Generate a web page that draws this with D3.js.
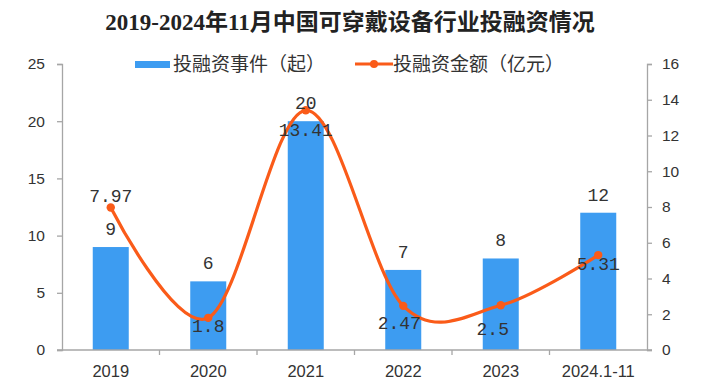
<!DOCTYPE html>
<html>
<head>
<meta charset="utf-8">
<script src="https://cdn.jsdelivr.net/npm/d3@7"></script>
<style>
  html, body { margin: 0; padding: 0; background: #fff; }
  svg { display: block; }
</style>
</head>
<body>
<svg id="chart" width="701" height="382"></svg>
<script>
// ---- data ----
const titleText = "2019-2024年11月中国可穿戴设备行业投融资情况";
const categories = ["2019", "2020", "2021", "2022", "2023", "2024.1-11"];
const dealCounts = [9, 6, 20, 7, 8, 12];            // 投融资事件（起）
const dealAmounts = [7.97, 1.8, 13.41, 2.47, 2.5, 5.31]; // 投融资金额（亿元）
const leftTicks = [0, 5, 10, 15, 20, 25];
const rightTicks = [0, 2, 4, 6, 8, 10, 12, 14, 16];
const seriesNames = ["投融资事件（起）", "投融资金额（亿元）"];

// ---- layout / style ----
const W = 701, H = 382;
const plot = { left: 62, right: 647, top: 64, bottom: 350 };
const barColor = "#3d9cf1";
const lineColor = "#fa5b19";
const axisColor = "#a6a6a6";
const textColor = "#333";
const cjk = "'Noto Sans CJK SC', sans-serif";

const svg = d3.select("#chart");

const x = d3.scaleBand().domain(categories).range([plot.left, plot.right]).paddingInner(0).paddingOuter(0);
const yL = d3.scaleLinear().domain([0, 25]).range([plot.bottom, plot.top]);
const yR = d3.scaleLinear().domain([0, 16]).range([plot.bottom, plot.top]);
const barW = 36;
const cx = c => x(c) + x.bandwidth() / 2;

// title
svg.append("text")
  .attr("x", 350).attr("y", 30)
  .attr("text-anchor", "middle")
  .attr("font-family", "'Liberation Serif', 'Noto Sans CJK SC', serif")
  .attr("font-weight", "bold")
  .attr("font-size", 23)
  .attr("fill", "#222")
  .text(titleText);

// bars
svg.append("g").selectAll("rect").data(dealCounts).join("rect")
  .attr("x", (d, i) => cx(categories[i]) - barW / 2)
  .attr("y", d => yL(d))
  .attr("width", barW)
  .attr("height", d => yL(0) - yL(d))
  .attr("fill", barColor);

// axes
const axisStyle = g => {
  g.selectAll(".domain").attr("stroke", axisColor).attr("stroke-width", 1.3);
  g.selectAll(".tick line").attr("stroke", axisColor).attr("stroke-width", 1.3);
  g.selectAll("text").attr("fill", textColor);
};

svg.append("g")
  .attr("transform", `translate(${plot.left},0)`)
  .call(d3.axisLeft(yL).tickValues(leftTicks).tickSize(5).tickSizeOuter(5).tickPadding(12))
  .call(axisStyle)
  .call(g => g.selectAll("text").attr("font-family", "'Liberation Sans', sans-serif").attr("font-size", 15.5));

svg.append("g")
  .attr("transform", `translate(${plot.right},0)`)
  .call(d3.axisRight(yR).tickValues(rightTicks).tickSize(5).tickSizeOuter(5).tickPadding(10))
  .call(axisStyle)
  .call(g => g.selectAll("text").attr("font-family", "'Liberation Sans', sans-serif").attr("font-size", 15.5));

// bottom axis: line + separators between categories
const bottom = svg.append("g").attr("transform", `translate(0,${plot.bottom})`);
bottom.append("line")
  .attr("x1", plot.left - 5).attr("x2", plot.right + 5)
  .attr("y1", 0).attr("y2", 0)
  .attr("stroke", axisColor).attr("stroke-width", 1.3);
bottom.selectAll("line.sep").data(categories.slice(1)).join("line")
  .attr("class", "sep")
  .attr("x1", d => x(d)).attr("x2", d => x(d))
  .attr("y1", 0).attr("y2", 5)
  .attr("stroke", axisColor).attr("stroke-width", 1.3);
bottom.selectAll("text").data(categories).join("text")
  .attr("x", d => cx(d)).attr("y", 27)
  .attr("text-anchor", "middle")
  .attr("font-family", "'Liberation Sans', sans-serif")
  .attr("font-size", 16.5)
  .attr("fill", textColor)
  .text(d => d);

// line
const pts = dealAmounts.map((v, i) => [cx(categories[i]), yR(v)]);
svg.append("path")
  .attr("d", d3.line().curve(d3.curveCardinal.tension(0))(pts))
  .attr("fill", "none")
  .attr("stroke", lineColor)
  .attr("stroke-width", 3.2);
svg.append("g").selectAll("circle").data(pts).join("circle")
  .attr("cx", d => d[0]).attr("cy", d => d[1]).attr("r", 4.2)
  .attr("fill", lineColor);

// bar labels
svg.append("g").selectAll("text").data(dealCounts).join("text")
  .attr("x", (d, i) => cx(categories[i]))
  .attr("y", d => yL(d) - 12)
  .attr("text-anchor", "middle")
  .attr("font-family", "'Liberation Mono', monospace")
  .attr("font-size", 18)
  .attr("fill", textColor)
  .text(d => d);

// line labels (vertical offsets relative to point)
const lineLabelDy = [-12, 8, 19, 17, 23, 9];
const lineLabelDx = [0, 0, 0, -4, -8, 0];
svg.append("g").selectAll("text").data(dealAmounts).join("text")
  .attr("x", (d, i) => pts[i][0] + lineLabelDx[i])
  .attr("y", (d, i) => pts[i][1] + lineLabelDy[i])
  .attr("dy", "0.35em")
  .attr("text-anchor", "middle")
  .attr("font-family", "'Liberation Mono', monospace")
  .attr("font-size", 18)
  .attr("fill", textColor)
  .text(d => d);

// legend
const lg = svg.append("g").attr("font-family", cjk).attr("font-size", 19).attr("fill", textColor);
lg.append("rect").attr("x", 135).attr("y", 61).attr("width", 35).attr("height", 7).attr("fill", barColor);
lg.append("text").attr("x", 173).attr("y", 64).attr("dy", "0.35em").text(seriesNames[0]);
lg.append("line").attr("x1", 355).attr("x2", 393).attr("y1", 64).attr("y2", 64)
  .attr("stroke", lineColor).attr("stroke-width", 3.2);
lg.append("circle").attr("cx", 374).attr("cy", 64).attr("r", 4).attr("fill", lineColor);
lg.append("text").attr("x", 393).attr("y", 64).attr("dy", "0.35em").text(seriesNames[1]);
</script>
</body>
</html>
